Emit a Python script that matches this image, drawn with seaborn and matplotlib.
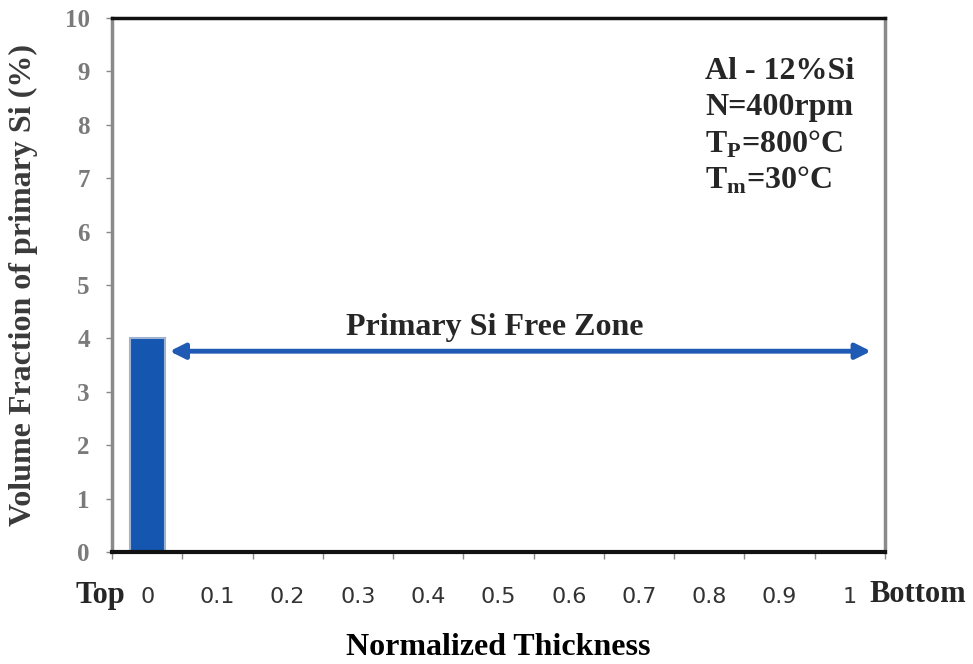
import numpy as np
import pandas as pd
import matplotlib
matplotlib.use("Agg")
import matplotlib.pyplot as plt
import seaborn as sns

# normalized thickness categories and volume fraction of primary Si (%)
thickness = ["0", "0.1", "0.2", "0.3", "0.4", "0.5", "0.6", "0.7", "0.8", "0.9", "1"]
vol_frac = [4.0, 0, 0, 0, 0, 0, 0, 0, 0, 0, 0]
conditions = ["Al - 12%Si", "N=400rpm", "T$_\\mathregular{P}$=800\u00b0C", "T$_\\mathregular{m}$=30\u00b0C"]

df = pd.DataFrame({"thickness": thickness, "vol_frac": vol_frac})

sns.set_style("white")
plt.rcParams["font.family"] = ["Liberation Serif", "DejaVu Serif"]
plt.rcParams["mathtext.fontset"] = "custom"
plt.rcParams["mathtext.rm"] = "Liberation Serif"

fig = plt.figure(figsize=(9.73, 6.64), dpi=100)
ax = fig.add_axes([112 / 973, 112 / 664, 773 / 973, 534 / 664])

sns.barplot(data=df, x="thickness", y="vol_frac", ax=ax, width=0.5,
            color="#1557b0", edgecolor="#9fb2d0", linewidth=1.5, saturation=1)

ax.set_xlim(-0.5, len(thickness) - 0.5)
ax.set_ylim(0, 10)
ax.set_yticks(range(0, 11))

# ticks between the categories, labels centred on them
ax.set_xticks(np.arange(-0.5, len(thickness)), minor=True)
ax.tick_params(axis="x", which="major", length=0, pad=25, labelsize=16, labelcolor="#333333")
ax.tick_params(axis="x", which="minor", length=5, width=1, color="#888888", bottom=True)
ax.tick_params(axis="y", length=4, width=1, color="#888888", left=True, pad=12, labelsize=18,
               labelcolor="#7a7a7a")
for lab in ax.get_xticklabels():
    lab.set_family(["DejaVu Sans"])
for lab in ax.get_yticklabels():
    lab.set_fontweight("bold")

ax.set_xlabel("Normalized Thickness", fontsize=23, fontweight="bold", color="black")
ax.set_ylabel("Volume Fraction of primary Si (%)", fontsize=23, fontweight="bold", color="#3a3a3a")
ax.xaxis.set_label_coords(0.5, -0.178)
ax.xaxis.label.set_va("center")
ax.yaxis.set_label_coords(-0.114, 0.5)
ax.yaxis.label.set_va("center")

for side, col, lw in [("left", "#8a8a8a", 2.5), ("right", "#8a8a8a", 2.5),
                      ("top", "#111111", 2.5), ("bottom", "#111111", 3)]:
    ax.spines[side].set_visible(True)
    ax.spines[side].set_color(col)
    ax.spines[side].set_linewidth(lw)

# primary Si free zone arrow
ax.annotate("", xy=(10.3, 3.76), xytext=(0.32, 3.76),
            arrowprops=dict(arrowstyle="<|-|>,head_length=0.9,head_width=0.45",
                            color="#1f5ab4", lw=3.5, shrinkA=0, shrinkB=0))
ax.text(4.95, 4.2, "Primary Si Free Zone", fontsize=23, fontweight="bold",
        ha="center", va="center")

for i, line in enumerate(conditions):
    ax.text(7.94, 9.0 - i * 0.68, line, fontsize=23, fontweight="bold",
            ha="left", va="center")

fig.text(100 / 973, 1 - 595 / 664, "Top", fontsize=22, fontweight="bold",
         ha="center", va="center")
fig.text(869 / 973, 1 - 595 / 664, "Bottom", fontsize=22, fontweight="bold",
         ha="left", va="center")

fig.savefig("out.png", dpi=100)
